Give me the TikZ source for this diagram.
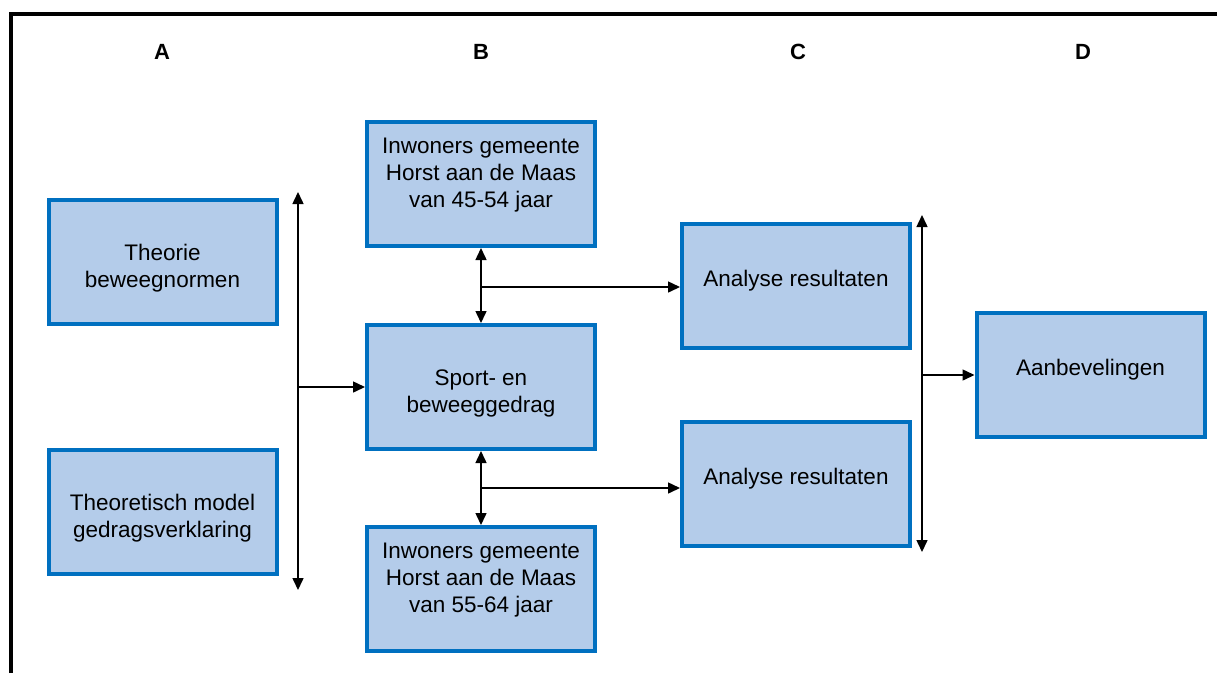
\documentclass[tikz,border=0pt]{standalone}
\usepackage{fontspec}
\setmainfont{Liberation Sans}
\usetikzlibrary{arrows.meta,positioning}
\definecolor{boxfill}{RGB}{180,204,234}
\definecolor{boxline}{RGB}{0,112,192}
\newcommand{\boxtop}[1][28pt]{\rule{0pt}{#1}}
\tikzset{
    box/.style =  {rectangle,
                  fill=boxfill,
                  draw=boxline,
                  text=black,
                  line width=4pt,
                  align=center,
                  minimum width=228pt,
                  minimum height=124pt,
                  font=\fontsize{22.5}{27}\selectfont},
    col/.style =  {text=black,
                  font=\fontsize{22}{27}\selectfont\bfseries},
    link/.style = {draw=black,
                  line width=1.5pt},
    >={Triangle[length=12pt,width=11pt]}}

\begin{document}
\begin{tikzpicture}[x=1pt,y=-1pt]
        \useasboundingbox (0,0) rectangle (1217,673);
        % frame
        \draw [line width=4pt] (11,673) -- (11,13.5) -- (1217,13.5);
        % column letters
        \node[col]   (colA) at (162,52)          {A};
        \node[col]   (colB) at (481,52)          {B};
        \node[col]   (colC) at (798,52)          {C};
        \node[col]   (colD) at (1083,52)         {D};
        % boxes
        \node[box]   (theorie)  at (162.5,262)   {\boxtop Theorie\\beweegnormen};
        \node[box]   (model)    [below=122pt of theorie]  {\boxtop Theoretisch model\\gedragsverklaring};
        \node[box]   (sport)    at (481,387)     {\boxtop Sport- en\\beweeggedrag};
        \node[box]   (inw45)    [above=75pt of sport]  {\boxtop[20pt]Inwoners gemeente\\Horst aan de Maas\\van 45-54 jaar\\~};
        \node[box]   (inw55)    [below=74pt of sport]  {\boxtop[20pt]Inwoners gemeente\\Horst aan de Maas\\van 55-64 jaar\\~};
        \node[box]   (analyse1) at (796,286)     {\boxtop Analyse resultaten\\~};
        \node[box]   (analyse2) [below=70pt of analyse1]  {\boxtop Analyse resultaten\\~};
        \node[box]   (advies)   at (1090.5,375)  {\boxtop Aanbevelingen\\~};
        % junctions
        \coordinate  (lt) at (298,192);
        \coordinate  (lb) at (298,590);
        \coordinate  (rt) at (922,215);
        \coordinate  (rb) at (922,552);
        \coordinate  (j1) at ([yshift=-1pt]analyse1.west);
        \coordinate  (j2) at ([yshift=-4pt]analyse2.west);
        % connectors
        \path [link]    (lt) edge [<->]             (lb)
                        (lt |- sport.west) edge [->]  (sport.west)
                        (inw45.south) edge [<->]    (sport.north)
                        (sport.south) edge [<->]    (inw55.north)
                        (inw45.south |- j1) edge [->]  (j1)
                        (sport.south |- j2) edge [->]  (j2)
                        (rt) edge [<->]             (rb)
                        (rt |- advies.west) edge [->]  (advies.west);
\end{tikzpicture}
\end{document}
